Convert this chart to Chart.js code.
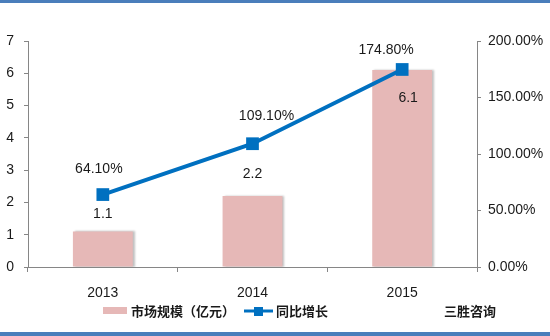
<!DOCTYPE html>
<html>
<head>
<meta charset="utf-8">
<script src="https://cdn.jsdelivr.net/npm/chart.js@4"></script>
<style>
  html, body { margin: 0; padding: 0; background: #fff; }
  #wrap { width: 550px; height: 336px; position: relative; }
</style>
</head>
<body>
<div id="wrap"><canvas id="chart" width="550" height="336"></canvas></div>
<script>
const years = ["2013", "2014", "2015"];
const marketSize = [1.1, 2.2, 6.1];        // 市场规模（亿元）
const growth = [64.1, 109.1, 174.8];        // 同比增长 (%)
const sizeLabels = ["1.1", "2.2", "6.1"];
const growthLabels = ["64.10%", "109.10%", "174.80%"];
const leftTicks = [0, 1, 2, 3, 4, 5, 6, 7];
const rightTicks = [0, 50, 100, 150, 200];

const textColor = "#1a1a1a";
const axisColor = "#868686";
const barColor = "#e6b8b7";
const lineColor = "#0070c0";

// frame, value labels and legend drawn on the canvas
const extras = {
  id: "extras",
  beforeDatasetDraw(chart, args) {
    if (args.index === 1) {
      const ctx = chart.ctx;
      ctx.save();
      ctx.shadowColor = "rgba(0,0,0,0.25)";
      ctx.shadowOffsetX = 2;
      ctx.shadowOffsetY = 0;
      ctx.shadowBlur = 2;
    }
  },
  afterDatasetDraw(chart, args) {
    if (args.index === 1) chart.ctx.restore();
  },
  afterDraw(chart) {
    const ctx = chart.ctx;
    ctx.save();
    // blue frame lines
    ctx.fillStyle = "#4a7ebb";
    ctx.fillRect(0, 0, 550, 3);
    ctx.fillRect(0, 332, 550, 4);

    ctx.font = "14px 'Liberation Sans', Arial, sans-serif";
    ctx.fillStyle = textColor;
    ctx.textAlign = "center";
    ctx.textBaseline = "middle";
    const bars = chart.getDatasetMeta(1).data;
    const barDy = [-17, -22, 28];
    const barDx = [0, 0, 6];
    bars.forEach((b, i) => ctx.fillText(sizeLabels[i], b.x + barDx[i], b.y + barDy[i]));
    const pts = chart.getDatasetMeta(0).data;
    const ptDy = [-25, -28, -19];
    const ptDx = [-4, 14, -16];
    pts.forEach((p, i) => ctx.fillText(growthLabels[i], p.x + ptDx[i], p.y + ptDy[i]));

    // legend
    const ly = 311;
    ctx.fillStyle = barColor;
    ctx.fillRect(103, 307, 24, 7);
    ctx.font = "bold 13px 'Noto Sans CJK SC', sans-serif";
    ctx.fillStyle = textColor;
    ctx.textAlign = "left";
    ctx.fillText(chart.data.datasets[1].label, 131, ly);
    ctx.strokeStyle = lineColor;
    ctx.lineWidth = 3;
    ctx.beginPath();
    ctx.moveTo(244, ly);
    ctx.lineTo(273, ly);
    ctx.stroke();
    ctx.fillStyle = lineColor;
    ctx.fillRect(254, ly - 4, 9, 9);
    ctx.fillStyle = textColor;
    ctx.fillText(chart.data.datasets[0].label, 276, ly);
    ctx.fillText("三胜咨询", 444, ly);
    ctx.restore();
  }
};

new Chart(document.getElementById("chart"), {
  type: "bar",
  data: {
    labels: years,
    datasets: [
      {
        type: "line",
        label: "同比增长",
        data: growth,
        yAxisID: "y1",
        borderColor: lineColor,
        backgroundColor: lineColor,
        borderWidth: 4,
        pointStyle: "rect",
        pointRadius: 9,
        pointHoverRadius: 9,
        pointBorderWidth: 0,
        tension: 0,
        order: 0
      },
      {
        type: "bar",
        label: "市场规模（亿元）",
        data: marketSize,
        yAxisID: "y",
        backgroundColor: barColor,
        categoryPercentage: 1,
        barPercentage: 0.4,
        order: 1
      }
    ]
  },
  options: {
    responsive: false,
    animation: false,
    layout: { padding: { top: 41, left: 0, right: 0, bottom: 0 } },
    plugins: { legend: { display: false }, tooltip: { enabled: false } },
    scales: {
      x: {
        offset: true,
        grid: { offset: true, drawOnChartArea: false, color: axisColor, tickLength: 5 },
        border: { color: axisColor },
        ticks: { color: textColor, font: { size: 14, family: "'Liberation Sans', Arial, sans-serif" }, padding: 13 },
        afterFit(s) { s.height = 69; }
      },
      y: {
        position: "left",
        min: 0,
        max: 7,
        afterBuildTicks(s) { s.ticks = leftTicks.map(v => ({ value: v })); },
        grid: { drawOnChartArea: false, color: axisColor, tickLength: 4 },
        border: { color: axisColor },
        ticks: { color: textColor, font: { size: 14, family: "'Liberation Sans', Arial, sans-serif" }, padding: 10 },
        afterFit(s) { s.width = 28; }
      },
      y1: {
        position: "right",
        min: 0,
        max: 200,
        afterBuildTicks(s) { s.ticks = rightTicks.map(v => ({ value: v })); },
        grid: { drawOnChartArea: false, color: axisColor, tickLength: 4 },
        border: { color: axisColor },
        ticks: {
          color: textColor,
          font: { size: 14, family: "'Liberation Sans', Arial, sans-serif" },
          padding: 7,
          callback: v => v.toFixed(2) + "%"
        },
        afterFit(s) { s.width = 73; }
      }
    }
  },
  plugins: [extras]
});
</script>
</body>
</html>
